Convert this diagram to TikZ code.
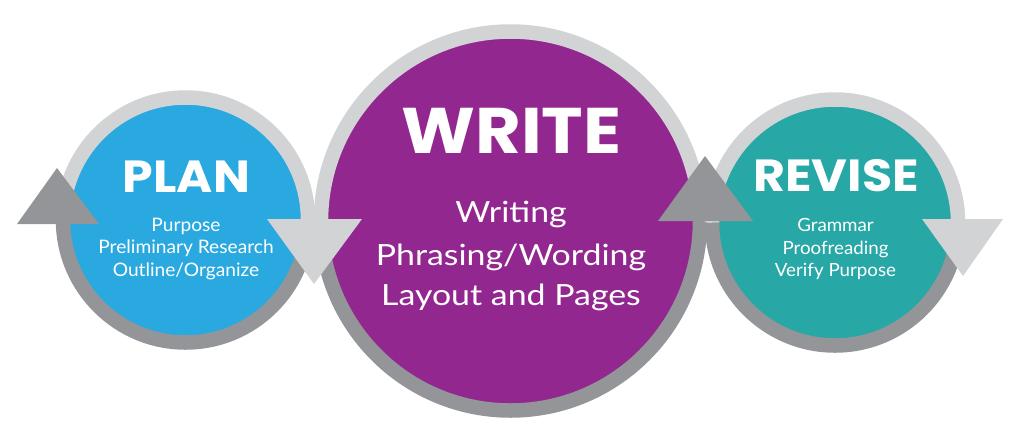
\documentclass[tikz,border=0pt]{standalone}
\usepackage{fontspec}
\setmainfont{Poppins}
\newfontfamily\titlefont{Poppins}[FakeStretch=1.09]
\newfontfamily\bodyfont{Lato}[FakeStretch=1.03]
\newfontfamily\bodyfontw{Lato}[FakeStretch=1.16]
\definecolor{planblue}{HTML}{29A9E0}
\definecolor{writepurple}{HTML}{92278F}
\definecolor{reviseteal}{HTML}{27A8A6}
\definecolor{ringlight}{HTML}{D1D3D4}
\definecolor{ringdark}{HTML}{939598}
\begin{document}
\begin{tikzpicture}[x=1pt,y=-1pt,
  lightring/.style={draw=ringlight,line width=14.5pt},
  darkring/.style={draw=ringdark,line width=14.5pt},
  titletext/.style={text=white,inner sep=0pt,anchor=base},
  bodytext/.style={text=white,inner sep=0pt,anchor=base}]
\useasboundingbox (0,0) rectangle (1024,440);
% PLAN
\fill[planblue] (185.5,220) circle[radius=116];
\draw[lightring] (185.5,220) ++(180:122.5) arc[start angle=180,end angle=360,radius=122.5];
\draw[darkring] (185.5,220) ++(0:122.5) arc[start angle=0,end angle=180,radius=122.5];
% WRITE
\fill[writepurple] (510.5,221) circle[radius=183];
\draw[lightring] (510.5,221) ++(180:189.5) arc[start angle=180,end angle=360,radius=189.5];
\draw[darkring] (510.5,221) ++(0:189.5) arc[start angle=0,end angle=180,radius=189.5];
% REVISE
\fill[reviseteal] (835,222.5) circle[radius=116.5];
\draw[lightring] (835,222.5) ++(180:123) arc[start angle=180,end angle=360,radius=123];
\draw[darkring] (835,222.5) ++(0:123) arc[start angle=0,end angle=180,radius=123];
% arrowheads
\fill[ringdark] (17,224) -- (99,224) -- (57,168) -- cycle;
\fill[ringlight] (267,219) -- (362,219) -- (314,284) -- cycle;
\fill[ringdark] (658,221) -- (753,221) -- (705,156) -- cycle;
\fill[ringlight] (922,219) -- (1003,219) -- (963,276) -- cycle;
% texts
\node[titletext,font=\titlefont\bfseries\fontsize{45}{45}\selectfont] (plan) at (186.5,192) {PLAN};
\node[bodytext,font=\bodyfont\fontsize{18.6}{18.6}\selectfont] (plan1) at (186,231) {Purpose};
\node[bodytext,font=\bodyfont\fontsize{18.6}{18.6}\selectfont] (plan2) at (186,253.3) {Preliminary Research};
\node[bodytext,font=\bodyfont\fontsize{18.6}{18.6}\selectfont] (plan3) at (186,276) {Outline/Organize};
\node[titletext,font=\titlefont\bfseries\fontsize{64.5}{64.5}\selectfont] (write) at (511.5,153) {WRITE};
\node[bodytext,font=\bodyfontw\fontsize{29.2}{29.2}\selectfont] (write1) at (511,222.5) {Writing};
\node[bodytext,font=\bodyfontw\fontsize{29.2}{29.2}\selectfont] (write2) at (511,265) {Phrasing/Wording};
\node[bodytext,font=\bodyfontw\fontsize{29.2}{29.2}\selectfont] (write3) at (511,305) {Layout and Pages};
\node[titletext,font=\titlefont\bfseries\fontsize{45}{45}\selectfont] (revise) at (836,191) {REVISE};
\node[bodytext,font=\bodyfont\fontsize{18.2}{18.2}\selectfont] (revise1) at (835.5,231) {Grammar};
\node[bodytext,font=\bodyfont\fontsize{18.2}{18.2}\selectfont] (revise2) at (835.5,254) {Proofreading};
\node[bodytext,font=\bodyfont\fontsize{18.2}{18.2}\selectfont] (revise3) at (835.5,276) {Verify Purpose};
\end{tikzpicture}
\end{document}
